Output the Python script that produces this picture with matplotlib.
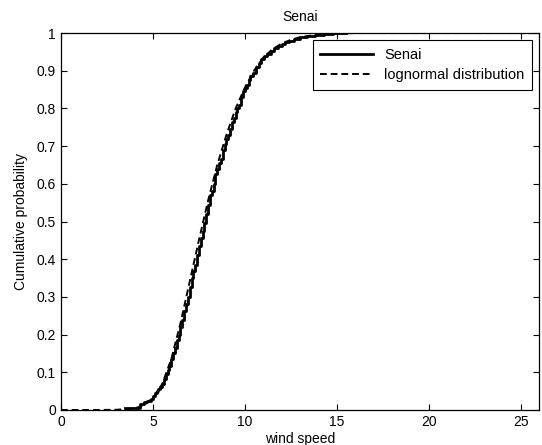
import numpy as np
import matplotlib
matplotlib.use("Agg")
from matplotlib import pyplot as plt

emp_x = [3.5, 4.0, 4.3, 4.5, 4.7, 4.9,
         5.0, 5.1, 5.2, 5.3, 5.4, 5.5, 5.6, 5.7, 5.8, 5.9,
         6.0, 6.1, 6.2, 6.3, 6.4, 6.5, 6.6, 6.7, 6.8, 6.9,
         7.0, 7.1, 7.2, 7.3, 7.4, 7.5, 7.6, 7.7, 7.8, 7.9,
         8.0, 8.1, 8.2, 8.3, 8.4, 8.5, 8.6, 8.7, 8.8, 8.9,
         9.0, 9.1, 9.2, 9.3, 9.4, 9.5, 9.6, 9.7, 9.8, 9.9,
         10.0, 10.1, 10.2, 10.3, 10.45, 10.6, 10.75, 10.9, 11.05, 11.2,
         11.4, 11.6, 11.8, 12.0, 12.2, 12.4,
         12.7, 13.0, 13.4, 13.8, 14.3, 14.8, 15.5]
emp_y = [0.004, 0.006, 0.015, 0.02, 0.025, 0.03,
         0.038, 0.045, 0.05, 0.055, 0.062, 0.07, 0.082, 0.095, 0.105, 0.118,
         0.135, 0.15, 0.165, 0.185, 0.2, 0.22, 0.24, 0.262, 0.28, 0.30,
         0.325, 0.35, 0.37, 0.385, 0.41, 0.435, 0.455, 0.475, 0.495, 0.52,
         0.545, 0.57, 0.58, 0.60, 0.625, 0.64, 0.655, 0.665, 0.69, 0.705,
         0.72, 0.73, 0.745, 0.765, 0.775, 0.79, 0.80, 0.81, 0.83, 0.845,
         0.855, 0.862, 0.875, 0.885, 0.895, 0.91, 0.92, 0.93, 0.94, 0.945,
         0.952, 0.96, 0.966, 0.972, 0.976, 0.98,
         0.985, 0.989, 0.992, 0.995, 0.997, 0.999, 1.0]

# fitted lognormal cdf
fit_x = [0, 2, 3, 4, 4.5, 5, 5.5, 6, 6.5, 7, 7.5, 8, 8.5, 9, 9.5, 10, 10.5, 11,
         11.5, 12, 12.5, 13, 14, 15, 16, 26]
fit_y = [0, 0, 0.0005, 0.004, 0.012, 0.032, 0.068, 0.135, 0.23, 0.34, 0.45, 0.555,
         0.65, 0.73, 0.80, 0.855, 0.90, 0.935, 0.957, 0.972, 0.982, 0.989, 0.996,
         0.999, 1.0, 1.0]

x_ticks = [0, 5, 10, 15, 20, 25]
y_ticks = [0, 0.1, 0.2, 0.3, 0.4, 0.5, 0.6, 0.7, 0.8, 0.9, 1]
y_tick_labels = ['0', '0.1', '0.2', '0.3', '0.4', '0.5', '0.6', '0.7', '0.8', '0.9', '1']

plt.rcParams['font.family'] = ['Liberation Sans', 'DejaVu Sans']
plt.rcParams['font.size'] = 10

fig = plt.figure(figsize=(5.42, 4.45), dpi=100)
ax = fig.add_axes([0.1125, 0.0787, 0.882, 0.847])

ax.plot(emp_x, emp_y, color='black', lw=2.0, drawstyle='steps-post', label='Senai')
ax.plot(fit_x, fit_y, color='black', lw=1.4, ls=(0, (3.5, 2)), label='lognormal distribution')

ax.set_xlim(0, 26)
ax.set_ylim(0, 1)
ax.set_xticks(x_ticks)
ax.set_yticks(y_ticks)
ax.set_yticklabels(y_tick_labels)
ax.tick_params(direction='in', top=True, right=True, length=4, width=0.8)
for s in ax.spines.values():
    s.set_linewidth(0.9)

ax.set_title('Senai', fontsize=10, pad=9)
ax.set_xlabel('wind speed', labelpad=2)
ax.set_ylabel('Cumulative probability', labelpad=6)

leg = ax.legend(loc='upper right', fancybox=False, framealpha=1, edgecolor='black',
                borderaxespad=0.5, handlelength=3.6, borderpad=0.5, labelspacing=0.45,
                fontsize=10.5)
leg.get_frame().set_linewidth(0.8)

fig.savefig('out.png', dpi=100)
